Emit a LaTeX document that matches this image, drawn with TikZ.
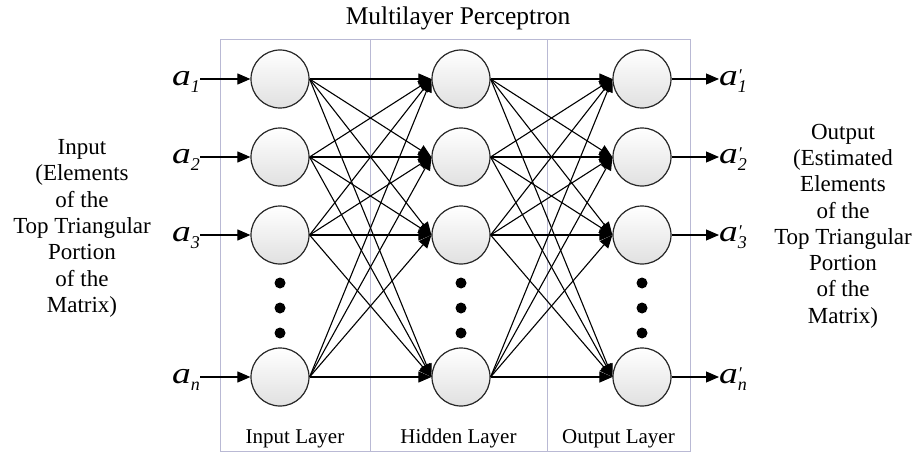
\documentclass[tikz,border=0pt]{standalone}
\usepackage{fontspec}
\usepackage{graphicx}
\setmainfont{Liberation Serif}
\usetikzlibrary{arrows.meta,positioning}

\definecolor{boxline}{RGB}{185,185,212}
\newcommand{\subfnt}{\fontsize{18}{18}\selectfont}
\newcommand{\wa}{\scalebox{1.25}[1]{\textit{a}}}
\newcommand{\inlab}[1]{\wa\raisebox{-7pt}{\subfnt\textit{#1}}}
\newcommand{\outlab}[1]{\wa\rlap{\raisebox{4pt}{\subfnt\textit{\char"2032}}}\raisebox{-7pt}{\subfnt\textit{#1}}}

\begin{document}
\begin{tikzpicture}[
        x=1pt, y=-1pt,
        neuron/.style={draw=black!85, circle, minimum size=58pt, inner sep=0pt, line width=1.2pt, top color=white, bottom color=black!12},
        layerbox/.style={draw=boxline, line width=1pt, minimum height=411pt, inner sep=0pt},
        layerlab/.style={font=\fontsize{21}{24}\selectfont, inner sep=0pt},
        sidetext/.style={align=center, font=\fontsize{23}{26.3}\selectfont, inner sep=0pt},
        sym/.style={font=\fontsize{30}{30}\selectfont, inner sep=0pt},
        conn/.style={draw, line width=1.1pt, -{Triangle[length=13pt,width=11pt]}},
    ]
    \useasboundingbox (0,0) rectangle (919,452);

    % layers
    \node[layerbox, minimum width=150pt](inbox) at (295,245.5){};
    \node[layerbox, minimum width=177pt](hidbox) at (458.5,245.5){};
    \node[layerbox, minimum width=143pt](outbox) at (618.5,245.5){};
    \node[layerlab, above=3.5pt of inbox.south](inlayer){Input Layer};
    \node[layerlab, above=3.5pt of hidbox.south](hidlayer){Hidden Layer};
    \node[layerlab, above=3.5pt of outbox.south](outlayer){Output Layer};
    \node[font=\fontsize{25.5}{28}\selectfont, anchor=base, inner sep=0pt](title) at (458,25){Multilayer Perceptron};

    % neurons
    \node[neuron](in1) at (280,79){};
    \node[neuron](in2) at (280,157){};
    \node[neuron](in3) at (280,235){};
    \node[neuron](inn) at (280,377){};
    \node[neuron](hid1) at (461,79){};
    \node[neuron](hid2) at (461,157){};
    \node[neuron](hid3) at (461,235){};
    \node[neuron](hidn) at (461,377){};
    \node[neuron](out1) at (642,79){};
    \node[neuron](out2) at (642,157){};
    \node[neuron](out3) at (642,235){};
    \node[neuron](outn) at (642,377){};

    \foreach \x in {280,461,642}
        \foreach \y in {283,308,333}
            \fill (\x,\y) circle (5.5pt);

    % weights
    \foreach \i in {1,2,3,n}
        \foreach \j in {1,2,3,n}{
            \draw[conn] (in\i.east) -- (hid\j.west);
            \draw[conn] (hid\i.east) -- (out\j.west);
        }

    % inputs and outputs
    \node[sym, anchor=base east](la1) at (200,85){\inlab{1}};
    \node[sym, anchor=base east](la2) at (200,163){\inlab{2}};
    \node[sym, anchor=base east](la3) at (200,241){\inlab{3}};
    \node[sym, anchor=base east](lan) at (200,383){\inlab{n}};
    \node[sym, anchor=base west](lo1) at (719,85){\outlab{1}};
    \node[sym, anchor=base west](lo2) at (719,163){\outlab{2}};
    \node[sym, anchor=base west](lo3) at (719,241){\outlab{3}};
    \node[sym, anchor=base west](lon) at (719,383){\outlab{n}};
    \foreach \i in {1,2,3,n}{
        \draw[conn] (la\i.east |- in\i) -- (in\i.west);
        \draw[conn] (out\i.east) -- (lo\i.west |- out\i);
    }

    \node[sidetext](intext) at (82,228.5){Input\\(Elements\\of the\\Top Triangular\\Portion\\of the\\Matrix)};
    \node[sidetext](outtext) at (843,226){Output\\(Estimated\\Elements\\of the\\Top Triangular\\Portion\\of the\\Matrix)};
\end{tikzpicture}
\end{document}
